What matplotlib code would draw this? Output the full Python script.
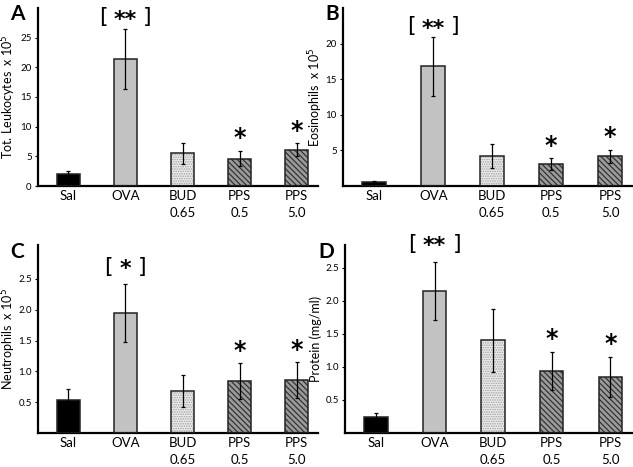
import numpy as np
import matplotlib.pyplot as plt

plt.rcParams['font.family'] = ['Lato', 'DejaVu Sans']
plt.rcParams['hatch.linewidth'] = 0.8

groups = ["Sal", "OVA", "BUD\n0.65", "PPS\n0.5", "PPS\n5.0"]

leuko = [2.1, 21.4, 5.5, 4.6, 6.1]
leuko_err = [0.5, 5.1, 1.8, 1.3, 1.1]

eos = [0.5, 16.8, 4.2, 3.1, 4.2]
eos_err = [0.15, 4.1, 1.7, 0.8, 0.9]

neut = [0.53, 1.95, 0.68, 0.84, 0.86]
neut_err = [0.19, 0.47, 0.26, 0.29, 0.29]

prot = [0.24, 2.14, 1.40, 0.94, 0.85]
prot_err = [0.06, 0.44, 0.48, 0.29, 0.30]

# significance marks over each bar ("[..]" = bracketed, above the axis)
sig_A = ["", "[**]", "", "*", "*"]
sig_B = ["", "[**]", "", "*", "*"]
sig_C = ["", "[*]", "", "*", "*"]
sig_D = ["", "[**]", "", "*", "*"]

W, H = 633, 467
fig = plt.figure(figsize=(W / 100, H / 100), dpi=100)


def ax_at(l, t, r, b):
    return fig.add_axes([l / W, 1 - b / H, (r - l) / W, (b - t) / H])


faces = ['black', '#c2c2c2', '#eeeeee', '#9a9a9a', '#9a9a9a']
hatches = [None, None, '.......', '\\\\\\\\\\\\', '\\\\\\\\\\\\']
hcols = [None, None, '#a0a0a0', '#2a2a2a', '#2a2a2a']


def panel(ax, vals, errs, sig, ylim, yticks, ytl, ylabel, letter, lpos, brk_y, lab_x):
    x = np.arange(len(vals))
    for i in range(len(vals)):
        if hatches[i]:
            ax.bar(x[i], vals[i], 0.4, color=faces[i], hatch=hatches[i],
                   edgecolor=hcols[i], linewidth=0, zorder=2)
        else:
            ax.bar(x[i], vals[i], 0.4, color=faces[i], linewidth=0, zorder=2)
        ax.bar(x[i], vals[i], 0.4, fill=False, edgecolor='#222222',
               linewidth=1.1, zorder=3)
    ax.errorbar(x, vals, yerr=errs, fmt='none', ecolor='black',
                elinewidth=0.9, capsize=1.5, capthick=0.9, zorder=4)
    for i, s in enumerate(sig):
        if s == "":
            continue
        if s.startswith("["):
            stars = s.strip("[]")
            half = 16 if len(stars) == 2 else 12
            ax.annotate(stars, (x[i], brk_y), xytext=(0, -2),
                        textcoords='offset points', ha='center', va='center',
                        fontsize=16, fontweight='bold', family='DejaVu Sans',
                        annotation_clip=False)
            ax.annotate("[", (x[i], brk_y), xytext=(-half, 0),
                        textcoords='offset points', ha='center', va='center',
                        fontsize=16, family='DejaVu Sans',
                        annotation_clip=False)
            ax.annotate("]", (x[i], brk_y), xytext=(half, 0),
                        textcoords='offset points', ha='center', va='center',
                        fontsize=16, family='DejaVu Sans',
                        annotation_clip=False)
        else:
            ax.annotate(s, (x[i], vals[i] + errs[i]), xytext=(0, 9),
                        textcoords='offset points', ha='center', va='center',
                        fontsize=17, fontweight='bold', family='DejaVu Sans')
    ax.set_xlim(-0.53, 4.37)
    ax.set_ylim(*ylim)
    ax.set_yticks(yticks)
    ax.set_yticklabels(ytl, fontsize=7)
    ax.set_xticks(x)
    ax.set_xticklabels(groups, fontsize=9.5, linespacing=1.45, va='top')
    ax.tick_params(axis='x', length=0, pad=3)
    ax.tick_params(axis='y', length=2.5, width=0.8, pad=2, direction='out')
    for sp in ['top', 'right']:
        ax.spines[sp].set_visible(False)
    ax.spines['left'].set_linewidth(1.6)
    ax.spines['bottom'].set_linewidth(1.6)
    ax.set_ylabel(ylabel, fontsize=9, va='center')
    bb = ax.get_position()
    ax.yaxis.set_label_coords((lab_x / W - bb.x0) / bb.width, 0.5)
    fig.text(lpos[0] / W, 1 - lpos[1] / H, letter, fontsize=15,
             fontweight='bold', ha='center', va='center')


axA = ax_at(38, 8, 318, 186)
panel(axA, leuko, leuko_err, sig_A, (0, 30), [0, 5, 10, 15, 20, 25],
      ['0', '5', '10', '15', '20', '25'], 'Tot. Leukocytes  x 10$^5$',
      'A', (17, 14), 28.5, 9)

axB = ax_at(343, 8, 632, 186)
panel(axB, eos, eos_err, sig_B, (0, 25), [5, 10, 15, 20],
      ['5', '10', '15', '20'], 'Eosinophils  x 10$^5$',
      'B', (332, 14), 22.5, 316)

axC = ax_at(38, 245, 318, 433)
panel(axC, neut, neut_err, sig_C, (0, 3.05), [0.5, 1.0, 1.5, 2.0, 2.5],
      ['0.5', '1.0', '1.5', '2.0', '2.5'], 'Neutrophils  x 10$^5$',
      'C', (17, 252), 2.7, 9)

axD = ax_at(345, 245, 632, 433)
panel(axD, prot, prot_err, sig_D, (0, 2.84), [0.5, 1.0, 1.5, 2.0, 2.5],
      ['0.5', '1.0', '1.5', '2.0', '2.5'], 'Protein (mg/ml)',
      'D', (326, 252), 2.86, 316)

plt.savefig('out.png', dpi=100)
